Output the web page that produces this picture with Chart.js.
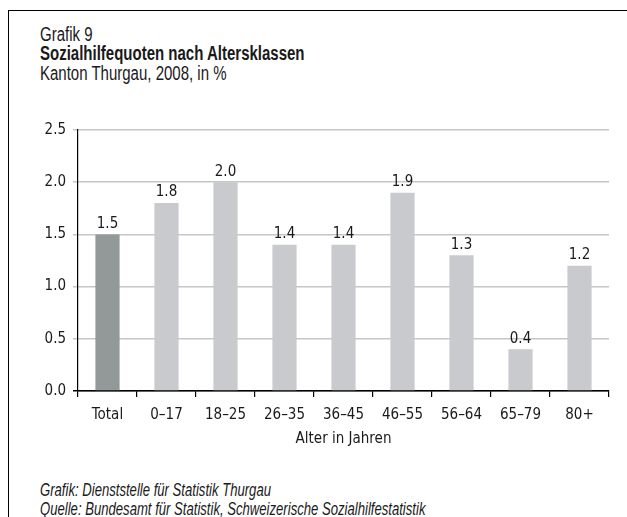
<!DOCTYPE html>
<html>
<head>
<meta charset="utf-8">
<script src="https://cdn.jsdelivr.net/npm/chart.js@4"></script>
<style>
  body { margin: 0; background: #fff; width: 627px; height: 517px; overflow: hidden; position: relative; }
  .frame { position: absolute; left: 8px; top: 10px; width: 640px; height: 540px; border-left: 1px solid #000; border-top: 1px solid #000; }
  .txt { position: absolute; left: 40px; color: #1a1a1a; font-family: "Liberation Sans", Arimo, sans-serif; font-size: 20px; white-space: nowrap; transform: scaleX(0.75); transform-origin: left top; }
  .b { font-weight: bold; }
  .i { font-style: italic; font-size: 19px; transform: scaleX(0.69); }
  #wrap { position: absolute; left: 8px; top: 110px; width: 619px; height: 347px; }
</style>
</head>
<body>
<div class="frame"></div>
<div class="txt" style="top:23px">Grafik 9</div>
<div class="txt b" style="top:42px">Sozialhilfequoten nach Altersklassen</div>
<div class="txt" style="top:62px">Kanton Thurgau, 2008, in %</div>
<div id="wrap"><canvas id="chart"></canvas></div>
<div class="txt i" style="top:479px">Grafik: Dienststelle für Statistik Thurgau</div>
<div class="txt i" style="top:498px">Quelle: Bundesamt für Statistik, Schweizerische Sozialhilfestatistik</div>
<script>
const ageGroups = ["Total", "0–17", "18–25", "26–35", "36–45", "46–55", "56–64", "65–79", "80+"];
const quotas = [1.5, 1.8, 2.0, 1.4, 1.4, 1.9, 1.3, 0.4, 1.2];
const yTicks = [0, 0.5, 1.0, 1.5, 2.0, 2.5];

const fontFamily = '"DejaVu Sans Condensed", "Liberation Sans", sans-serif';
const textColor = "#1a1a1a";

const valueLabels = {
  id: "valueLabels",
  afterDatasetsDraw(chart) {
    const { ctx } = chart;
    const meta = chart.getDatasetMeta(0);
    ctx.save();
    ctx.font = `15px ${fontFamily}`;
    ctx.fillStyle = textColor;
    ctx.textAlign = "center";
    ctx.textBaseline = "bottom";
    meta.data.forEach((bar, i) => {
      ctx.fillText(quotas[i].toFixed(1), bar.x, bar.y - 3);
    });
    ctx.restore();
  },
};

new Chart(document.getElementById("chart"), {
  type: "bar",
  data: {
    labels: ageGroups,
    datasets: [
      {
        data: quotas,
        backgroundColor: ageGroups.map((g, i) => (i === 0 ? "#939899" : "#c9cacd")),
        barPercentage: 0.41,
        categoryPercentage: 1,
      },
    ],
  },
  options: {
    responsive: true,
    maintainAspectRatio: false,
    animation: false,
    layout: { padding: { top: 20, right: 18, bottom: 0, left: 0 } },
    plugins: {
      legend: { display: false },
      tooltip: { enabled: false },
    },
    scales: {
      x: {
        afterFit: (scale) => {
          scale.height = 66;
        },
        grid: {
          drawOnChartArea: false,
          drawTicks: true,
          tickLength: 6,
          tickColor: "#000",
          lineWidth: 1.2,
        },
        border: { color: "#000", width: 1.2 },
        ticks: { color: textColor, font: { family: fontFamily, size: 15 }, padding: 9 },
        title: {
          display: true,
          text: "Alter in Jahren",
          color: textColor,
          font: { family: fontFamily, size: 15 },
          padding: { top: 0, bottom: 9 },
        },
      },
      y: {
        min: 0,
        max: 2.5,
        afterFit: (scale) => {
          scale.width = 70;
        },
        afterBuildTicks: (scale) => {
          scale.ticks = yTicks.map((v) => ({ value: v }));
        },
        grid: {
          color: (c) => (c.tick && c.tick.value === 0 ? "#000" : "#c6c6c6"),
          tickColor: (c) => (c.tick && c.tick.value === 0 ? "#000" : "#c6c6c6"),
          lineWidth: 1.5,
          tickLength: 5,
        },
        border: { color: "#000", width: 1.2 },
        ticks: {
          color: textColor,
          font: { family: fontFamily, size: 15 },
          padding: 7,
          callback: (v) => Number(v).toFixed(1),
        },
      },
    },
  },
  plugins: [valueLabels],
});
</script>
</body>
</html>
